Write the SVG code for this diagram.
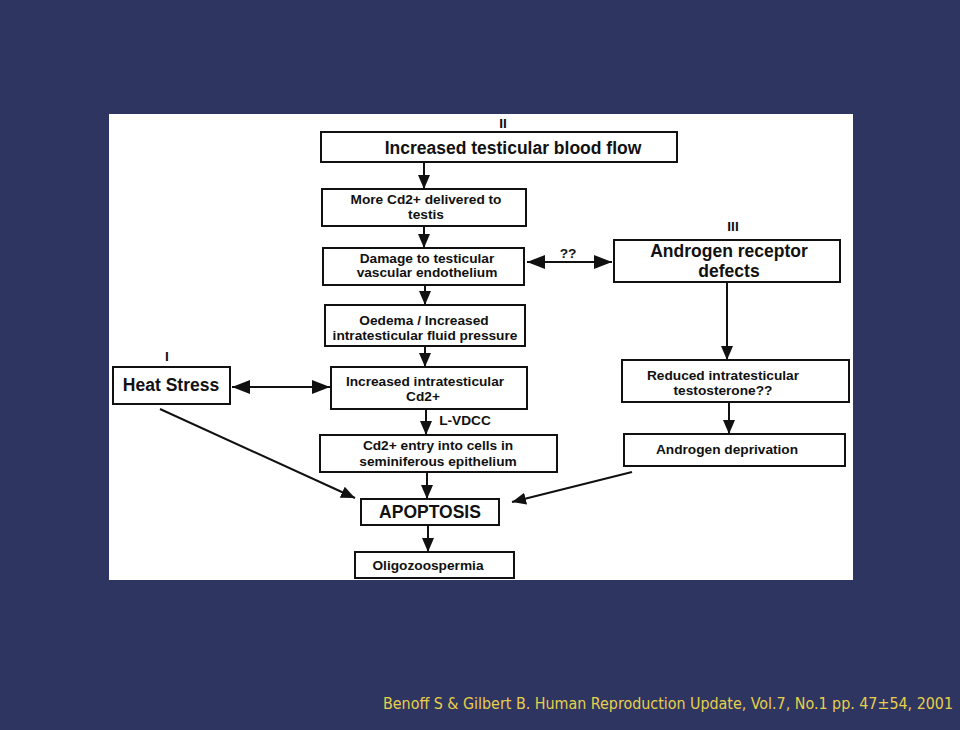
<svg xmlns="http://www.w3.org/2000/svg" width="960" height="730" viewBox="0 0 960 730">
<style>
.box{fill:#fff;stroke:#111;stroke-width:2}
.t{font-family:"Liberation Sans",Arial,sans-serif;font-weight:bold;fill:#111;text-anchor:middle}
.big{font-size:17.5px}
.sm{font-size:13.7px}
.ln{stroke:#111;stroke-width:2;fill:none}
.cite{font-family:"DejaVu Sans Condensed","DejaVu Sans",Verdana,sans-serif;font-size:16px;fill:#E6CF4C}
</style>
<defs>
<marker id="ah" viewBox="0 0 14 12" refX="14" refY="6" markerWidth="14" markerHeight="12" markerUnits="userSpaceOnUse" orient="auto">
<path d="M0,0 L14,6 L0,12 Z" fill="#111"/>
</marker>
<marker id="ahb" viewBox="0 0 18 14" refX="18" refY="7" markerWidth="18" markerHeight="14" markerUnits="userSpaceOnUse" orient="auto">
<path d="M0,0 L18,7 L0,14 Z" fill="#111"/>
</marker>
<marker id="ahbs" viewBox="0 0 18 14" refX="0" refY="7" markerWidth="18" markerHeight="14" markerUnits="userSpaceOnUse" orient="auto">
<path d="M18,0 L0,7 L18,14 Z" fill="#111"/>
</marker>
</defs>
<rect x="0" y="0" width="960" height="730" fill="#2F3561"/>
<rect x="109" y="114" width="744" height="466" fill="#fff"/>

<g id="labels">
<text class="t sm" x="503" y="128">II</text>
<text class="t sm" x="733" y="231">III</text>
<text class="t sm" x="167" y="361">I</text>
<text class="t sm" x="465" y="425">L-VDCC</text>
<text class="t sm" x="568" y="258">??</text>
</g>

<g id="connectors">
<line class="ln" x1="424" y1="163" x2="424" y2="189" marker-end="url(#ah)"/>
<line class="ln" x1="424" y1="227" x2="424" y2="248" marker-end="url(#ah)"/>
<line class="ln" x1="425" y1="286" x2="425" y2="305" marker-end="url(#ah)"/>
<line class="ln" x1="425" y1="347" x2="425" y2="367" marker-end="url(#ah)"/>
<line class="ln" x1="426" y1="410" x2="426" y2="435" marker-end="url(#ah)"/>
<line class="ln" x1="427" y1="473" x2="427" y2="499" marker-end="url(#ah)"/>
<line class="ln" x1="428" y1="526" x2="428" y2="552" marker-end="url(#ah)"/>
<line class="ln" x1="727" y1="282" x2="727" y2="360" marker-end="url(#ah)"/>
<line class="ln" x1="729" y1="403" x2="729" y2="434" marker-end="url(#ah)"/>
<line class="ln" x1="632" y1="472" x2="512" y2="502" marker-end="url(#ah)"/>
<line class="ln" x1="160" y1="409" x2="355" y2="498" stroke-width="1.5" marker-end="url(#ah)"/>
<line class="ln" x1="527" y1="262" x2="612" y2="262" stroke-width="3.5" marker-start="url(#ahbs)" marker-end="url(#ahb)"/>
<line class="ln" x1="232" y1="387" x2="330" y2="387" stroke-width="3.5" marker-start="url(#ahbs)" marker-end="url(#ahb)"/>
</g>

<g id="n-bloodflow">
<rect class="box" x="321" y="132" width="356" height="30"/>
<text class="t big" x="513" y="154">Increased testicular blood flow</text>
</g>
<g id="n-more-cd">
<rect class="box" x="322" y="189" width="204" height="37"/>
<text class="t sm" x="426" y="204">More Cd2+ delivered to</text>
<text class="t sm" x="426" y="219">testis</text>
</g>
<g id="n-damage">
<rect class="box" x="323" y="248" width="201" height="37"/>
<text class="t sm" x="427" y="263">Damage to testicular</text>
<text class="t sm" x="427" y="277">vascular endothelium</text>
</g>
<g id="n-oedema">
<rect class="box" x="325" y="305" width="200" height="41"/>
<text class="t sm" x="424" y="325">Oedema / Increased</text>
<text class="t sm" x="425" y="340">intratesticular fluid pressure</text>
</g>
<g id="n-heat">
<rect class="box" x="113" y="367" width="117" height="37"/>
<text class="t big" x="171" y="391">Heat Stress</text>
</g>
<g id="n-increased-cd">
<rect class="box" x="331" y="367" width="196" height="42"/>
<text class="t sm" x="425" y="386">Increased intratesticular</text>
<text class="t sm" x="423" y="401">Cd2+</text>
</g>
<g id="n-entry">
<rect class="box" x="320" y="435" width="237" height="37"/>
<text class="t sm" x="438" y="450">Cd2+ entry into cells in</text>
<text class="t sm" x="438" y="466">seminiferous epithelium</text>
</g>
<g id="n-apoptosis">
<rect class="box" x="361" y="499" width="138" height="26"/>
<text class="t big" x="430" y="518">APOPTOSIS</text>
</g>
<g id="n-oligo">
<rect class="box" x="355" y="552" width="159" height="26"/>
<text class="t sm" x="428" y="570">Oligozoospermia</text>
</g>
<g id="n-androgen-receptor">
<rect class="box" x="614" y="240" width="226" height="42"/>
<text class="t big" x="729" y="257">Androgen receptor</text>
<text class="t big" x="729" y="277">defects</text>
</g>
<g id="n-reduced">
<rect class="box" x="622" y="360" width="227" height="42"/>
<text class="t sm" x="723" y="380">Reduced intratesticular</text>
<text class="t sm" x="723" y="395">testosterone??</text>
</g>
<g id="n-deprivation">
<rect class="box" x="624" y="434" width="221" height="32"/>
<text class="t sm" x="727" y="454">Androgen deprivation</text>
</g>

<text class="cite" x="383" y="709" textLength="570" lengthAdjust="spacingAndGlyphs">Benoff S &amp; Gilbert B. Human Reproduction Update, Vol.7, No.1 pp. 47±54, 2001</text>
</svg>
